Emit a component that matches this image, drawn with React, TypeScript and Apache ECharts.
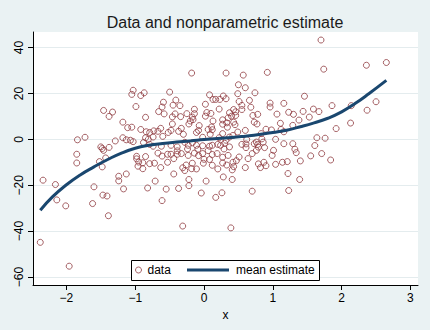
import React, { useEffect, useRef } from 'react';
import * as echarts from 'echarts';

const dataX = [
  -2.38, -2.34, -2.16, -2.14, -2.01, -1.96, -1.85, -1.85, -1.84, -1.73,
  -1.62, -1.60, -1.52, -1.50, -1.48, -1.46, -1.38, -1.43, -1.48, -1.47,
  -1.41, -1.39, -1.46, -1.33, -1.38, -1.29, -1.24, -1.24, -1.13, -1.17,
  -1.18, -1.11, -1.05, -1.18, -1.13, -1.07, -1.03, -1.03, -1.05, -0.87,
  -0.92, -0.99, -0.85, -0.92, -0.84, -0.79, -0.73, -0.63, -0.67, -0.60,
  -0.52, -0.48, -0.46, -0.37, -0.33, -0.30, -0.11, -0.08, -0.02, 0.09,
  -0.88, -0.85, -0.81, -0.74, -0.98, -0.98, -0.96, -0.95, -0.85, -0.89,
  -0.89, -0.82, -0.71, -0.63, -0.72, -0.79, -0.67, -0.61, -0.55, -0.53,
  -0.48, -0.53, -0.44, -0.39, -0.39, -0.39, -0.37, -0.31, -0.31, -0.28,
  -0.26, -0.23, -0.22, -0.22, -0.18, -0.17, -0.11, -0.14, -0.09, -0.08,
  -0.04, 0.00, 0.03, -0.02, 0.06, 0.12, 0.08, 0.08, 0.12, 0.20,
  0.17, 0.26, 0.28, 0.27, 0.27, -0.01, 0.12, 0.33, 0.41, 0.43,
  0.42, 0.47, 0.41, 0.39, 0.60, 0.70, 0.79, 0.82, 0.90, 0.87,
  0.35, 0.37, 0.24, 0.51, 0.64, 0.70, 0.76, 0.73, 0.78, 0.86,
  0.88, 0.99, 1.01, 1.04, 1.14, 1.21, 1.22, 1.16, 1.29, 1.32,
  1.34, 1.23, 1.39, 1.40, 1.55, 1.61, 1.71, 1.84, 0.55, 0.61,
  -0.24, 0.19, 0.29, -0.44, -0.61, -0.33, -0.79, -0.74, -0.62, -0.48,
  -0.28, -0.23, -0.17, -0.11, -0.02, 0.20, 0.30, 0.32, 0.22, -0.50,
  -0.59, -0.61, -0.66, -0.58, -0.41, -0.45, -0.35, -0.42, -0.46, -0.34,
  -0.25, -0.14, -0.14, -0.17, -0.20, -0.22, -0.16, -0.07, 0.02, 0.08,
  0.13, 0.17, 0.23, 0.28, 0.32, 0.22, 0.04, 0.10, 0.02, 0.13,
  0.11, 0.12, 0.06, 0.27, 0.27, 0.33, 0.35, 0.37, 0.40, 0.46,
  0.46, 0.43, 0.55, 0.43, 0.45, 0.34, 0.50, 0.57, 0.60, 0.74,
  0.49, 0.51, 0.66, 0.55, 0.68, 0.71, 0.78, 0.73, 0.77, 0.60,
  0.49, 0.42, 0.37, 0.27, 0.83, 0.90, 0.98, 1.12, 1.16, 0.84,
  1.04, 0.62, 0.76, 0.79, 0.92, 0.32, -0.18, 1.70, 1.74, 2.36,
  2.65, 1.46, 0.96, 0.96, 1.16, 1.86, 2.14, 2.50, 2.37, 1.59,
  1.44, 1.67, 1.23, 1.30, 1.06, 1.53, 1.38, 1.11, 2.13, 1.29,
  1.92, 1.64, 1.76, 0.61,
];

const dataY = [
  -44.9, -17.8, -19.7, -26.4, -29.0, -55.3, -6.5, -10.3, -0.2, 0.9,
  -28.0, -20.7, -9.7, -3.3, -4.0, -4.8, -3.5, -8.1, -12.0, -24.3,
  -24.7, -33.3, 12.6, 11.9, 10.0, -0.7, -16.1, -18.1, -15.1, -21.6,
  7.5, 5.1, 5.3, 0.7, -0.2, -0.4, -1.0, 21.4, 19.6, 20.3,
  19.1, 14.3, 9.6, 4.3, 3.3, 3.0, 3.7, 4.8, 3.5, 1.3,
  3.0, 3.9, 6.7, 3.5, 4.8, 2.2, 3.0, 3.9, 0.9, 2.2,
  -1.4, 0.7, 0.0, 1.0, -7.4, -8.5, -11.7, -9.9, -7.5, -10.2,
  -12.8, -21.2, -18.2, -12.3, -10.4, -10.6, -6.0, -26.7, -21.7, -10.0,
  -6.5, -6.5, -15.1, -3.3, -5.0, -6.5, -21.4, -37.8, -12.4, -13.6,
  -11.2, -7.0, -17.5, -20.2, -12.8, -10.4, -12.9, -6.0, -4.3, -7.1,
  -23.4, -8.7, -18.2, -6.2, -4.9, -6.6, -8.8, -3.0, -2.6, -12.9,
  -25.3, -23.3, -16.4, -10.3, -7.8, -10.4, -11.3, -11.2, -13.3, -11.9,
  -10.0, -9.3, -17.5, -38.6, -12.3, -22.6, -10.7, -12.3, -11.5, -10.0,
  -7.0, -3.3, -2.6, -7.7, -8.4, -6.2, -4.8, -1.9, -2.2, -1.2,
  -3.6, -7.0, -4.8, -10.9, -10.0, -9.7, -14.9, -1.9, -1.9, -4.3,
  -5.8, -22.3, -17.5, -9.4, -7.2, -2.7, -6.2, -9.0, -2.2, -3.6,
  -4.2, -6.2, -4.2, -8.4, -7.3, -6.2, -2.2, -3.0, -3.0, -2.6,
  -1.3, -2.6, -1.5, -2.6, -2.8, -2.2, -1.7, -0.4, 0.7, 20.6,
  16.2, 14.1, 12.1, 11.1, 17.1, 14.9, 14.7, 11.1, 9.8, 9.9,
  11.2, 13.1, 11.2, 9.7, 8.0, 6.7, 8.6, 6.0, 15.3, 19.4,
  17.4, 17.4, 17.4, 18.9, 17.7, 13.2, 11.7, 11.3, 10.1, 8.0,
  5.4, 4.2, 4.3, 8.5, 6.6, 7.2, 9.4, 11.6, 10.1, 12.0,
  10.4, 13.0, 13.0, 7.5, 6.4, 5.3, 23.8, 28.0, 22.5, 20.3,
  19.9, 16.5, 17.0, 14.8, 14.0, 10.4, 10.9, 7.5, 6.7, 3.9,
  3.2, 1.7, 1.0, 2.5, 2.5, 4.4, 4.1, 4.3, 3.3, 0.2,
  0.0, -0.1, -1.2, -3.4, 29.2, 28.9, 28.9, 43.3, 30.6, 32.3,
  33.5, 18.8, 15.8, 14.1, 15.7, 14.7, 14.7, 16.4, 12.7, 13.2,
  12.2, 12.1, 11.8, 10.9, 11.0, 9.7, 8.4, 7.0, 7.1, 6.1,
  4.7, 0.7, 0.5, -2.0,
];

const curveX = [
  -2.38, -2.2, -2.0, -1.8, -1.6, -1.4, -1.2, -1.0, -0.8, -0.6,
  -0.4, -0.2, 0.0, 0.2, 0.4, 0.6, 0.8, 1.0, 1.2, 1.4,
  1.6, 1.8, 2.0, 2.2, 2.4, 2.65,
];
const curveY = [
  -30.9, -25.0, -19.8, -15.5, -12.0, -8.8, -6.0, -3.9, -2.6, -1.8,
  -1.2, -0.7, -0.1, 0.4, 0.8, 1.4, 2.1, 3.0, 4.0, 5.5,
  7.2, 9.2, 12.0, 15.7, 20.0, 25.7,
];

const xTicks = [-2, -1, 0, 1, 2, 3];
const yTicks = [-60, -40, -20, 0, 20, 40];

const seriesNames = ['data', 'mean estimate'];

export default function App() {
  const ref = useRef<HTMLDivElement>(null);
  useEffect(() => {
    document.body.style.margin = '0';
    const chart = echarts.init(ref.current!, null, { renderer: 'svg' });
    const font = '"Liberation Sans", Arial, Helvetica, sans-serif';
    const minus = (v: number) => String(v).replace('-', '\u2212');
    const navy = '#1A476F';
    const maroon = '#8F3A3E';
    chart.setOption({
      animation: false,
      backgroundColor: '#EAF2F3',
      title: {
        text: 'Data and nonparametric estimate',
        left: 220,
        top: 9,
        textAlign: 'center',
        textStyle: { fontFamily: font, fontSize: 16, fontWeight: 'normal', color: '#1a1a1a' },
      },
      grid: { left: 33, right: 12, top: 32, bottom: 45, show: true, backgroundColor: '#ffffff', borderWidth: 0 },
      xAxis: {
        type: 'value',
        min: -2.486,
        max: 3.11,
        name: 'x',
        nameLocation: 'middle',
        nameGap: 11,
        nameTextStyle: { fontFamily: font, fontSize: 12, color: '#000' },
        axisLine: { onZero: false, lineStyle: { color: '#000', width: 1 } },
        axisTick: { show: true, customValues: xTicks, length: 5, lineStyle: { color: '#000' } },
        axisLabel: { customValues: xTicks, formatter: minus, margin: 7, fontFamily: font, fontSize: 12, color: '#000' },
        splitLine: { show: false },
      },
      yAxis: {
        type: 'value',
        min: -63.5,
        max: 46.8,
        axisLine: { show: true, onZero: false, lineStyle: { color: '#000', width: 1 } },
        axisTick: { show: true, customValues: yTicks, length: 5, lineStyle: { color: '#000' } },
        axisLabel: { customValues: yTicks, formatter: minus, rotate: 90, margin: 8, fontFamily: font, fontSize: 12, color: '#000' },
        splitLine: { show: true, lineStyle: { color: '#E4ECEE', width: 1 } },
      },
      legend: [
        {
          data: [{
            name: seriesNames[0],
            icon: 'circle',
            itemStyle: { color: 'rgba(0,0,0,0)', borderColor: maroon, borderWidth: 1 },
          }],
          left: 135,
          top: 264,
          padding: 0,
          itemWidth: 6,
          itemHeight: 6,
          itemGap: 0,
          z: 10,
          textStyle: { fontFamily: font, fontSize: 12, color: '#000', padding: [0, 0, 0, 1] },
        },
        {
          data: [{ name: seriesNames[1], icon: 'rect' }],
          left: 187,
          top: 264,
          padding: 0,
          itemWidth: 42,
          itemHeight: 3,
          z: 10,
          itemStyle: { color: navy },
          textStyle: { fontFamily: font, fontSize: 12, color: '#000', padding: [0, 0, 0, 2] },
        },
      ],
      graphic: [
        {
          type: 'rect',
          z: 6,
          shape: { x: 131.5, y: 260.5, width: 188, height: 20 },
          style: { fill: '#ffffff', stroke: '#000000', lineWidth: 1 },
        },
      ],
      series: [
        {
          name: seriesNames[0],
          type: 'scatter',
          symbol: 'circle',
          symbolSize: 6,
          itemStyle: { color: 'rgba(0,0,0,0)', borderColor: maroon, borderWidth: 1 },
          data: dataX.map((x, i) => [x, dataY[i]]),
          z: 2,
        },
        {
          name: seriesNames[1],
          type: 'line',
          symbol: 'none',
          smooth: true,
          itemStyle: { color: navy },
          lineStyle: { color: navy, width: 3 },
          data: curveX.map((x, i) => [x, curveY[i]]),
          z: 3,
        },
      ],
    });
    return () => chart.dispose();
  }, []);
  return <div ref={ref} style={{ width: 430, height: 330 }} />;
}
